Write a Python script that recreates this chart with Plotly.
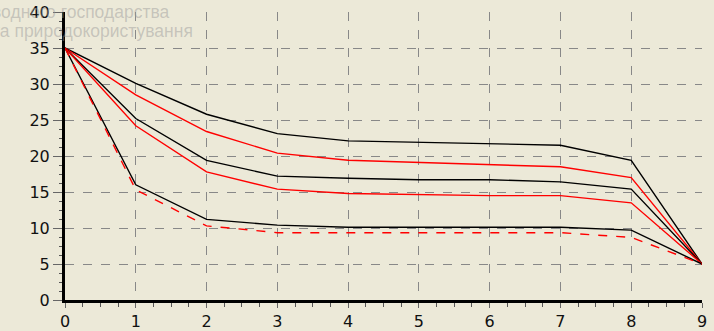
import plotly.graph_objects as go

x_vals = [0, 1, 2, 3, 4, 5, 6, 7, 8, 9]

black_top = [35, 30.1, 25.8, 23.1, 22.1, 21.9, 21.7, 21.5, 19.4, 5]
red_top = [35, 28.5, 23.4, 20.4, 19.4, 19.1, 18.9, 18.5, 17.0, 5]
black_mid = [35, 25.2, 19.4, 17.2, 16.9, 16.7, 16.7, 16.4, 15.4, 5]
red_mid = [35, 24.2, 17.8, 15.4, 14.8, 14.6, 14.5, 14.5, 13.5, 5]
black_low = [35, 16.0, 11.2, 10.4, 10.1, 10.1, 10.1, 10.1, 9.7, 5]
red_low = [35, 15.3, 10.3, 9.35, 9.35, 9.35, 9.35, 9.35, 8.7, 5]

x_ticks = [0, 1, 2, 3, 4, 5, 6, 7, 8, 9]
y_ticks = [0, 5, 10, 15, 20, 25, 30, 35, 40]

watermark_lines = ["водного господарства", "та природокористування"]

BG = "#ECE9D8"

fig = go.Figure()
series = [
    (black_top, "black", "solid"),
    (red_top, "#FF0000", "solid"),
    (black_mid, "black", "solid"),
    (red_mid, "#FF0000", "solid"),
    (black_low, "black", "solid"),
    (red_low, "#FF0000", "dash"),
]
for ys, col, dash in series:
    fig.add_trace(go.Scatter(x=x_vals, y=ys, mode="lines",
                             line=dict(color=col, width=1.4, dash=dash),
                             showlegend=False, hoverinfo="skip"))

fig.update_layout(
    width=714, height=331,
    margin=dict(l=65, r=12, t=12, b=31),
    paper_bgcolor=BG, plot_bgcolor=BG,
    font=dict(family="DejaVu Sans", size=16, color="#111111"),
    xaxis=dict(range=[0, 9], tickvals=x_ticks, ticktext=[str(v) for v in x_ticks],
               showgrid=True, gridcolor="#888888", griddash="dash", gridwidth=1,
               showline=True, linecolor="black", linewidth=3,
               ticks="outside", ticklen=5, tickcolor="#666666",
               minor=dict(dtick=0.25, ticks="outside", ticklen=4, tickcolor="#555555", showgrid=False),
               zeroline=False, fixedrange=True, automargin=False),
    yaxis=dict(range=[0, 40], tickvals=y_ticks,
               showgrid=True, gridcolor="#888888", griddash="dash", gridwidth=1,
               showline=True, linecolor="black", linewidth=3,
               ticks="outside", ticklen=9, tickcolor="#666666",
               minor=dict(dtick=1.25, ticks="outside", ticklen=3, tickcolor="#555555", showgrid=False),
               zeroline=False, fixedrange=True, automargin=False),
)

# watermark text, partly cut at the left edge
wm_font = dict(family="Liberation Sans", size=17.5, color="rgba(150,150,150,0.45)")
fig.add_annotation(text=watermark_lines[0], xref="paper", yref="paper",
                   x=-0.118, y=1.0, xanchor="left", yanchor="middle", showarrow=False,
                   font=wm_font)
fig.add_annotation(text=watermark_lines[1], xref="paper", yref="paper",
                   x=-0.117, y=0.935, xanchor="left", yanchor="middle", showarrow=False,
                   font=wm_font)

fig.write_html("out.html", config={"displayModeBar": False},
               post_script="document.body.style.margin='0';document.body.style.overflow='hidden';")
